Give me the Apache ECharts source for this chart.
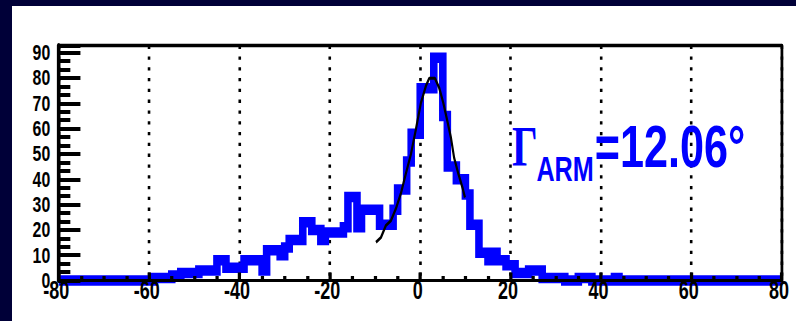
<!DOCTYPE html>
<html>
<head>
<meta charset="utf-8">
<script src="https://cdn.jsdelivr.net/npm/echarts@6/dist/echarts.min.js"></script>
<style>
  html, body { margin: 0; padding: 0; width: 796px; height: 321px; overflow: hidden; background: #000038; }
  #panel { position: absolute; left: 12px; top: 6px; width: 784px; height: 315px; background: #ffffff; }
  /* the plot is laid out wide and squeezed horizontally, like the original pad */
  #chart { position: absolute; left: 0; top: 0; width: 1106px; height: 321px;
           transform: scaleX(0.72); transform-origin: 0 0; }
</style>
</head>
<body>
<div id="panel"></div>
<div id="chart"></div>
<script>
// ARM distribution, 1-degree bins from -80 to 80
const binStart = -80;
const binWidth = 1;
const counts = [
  // -80 .. -71
  0, 0, 0, 0, 0, 0, 0, 0, 0, 0,
  // -70 .. -61
  0, 0, 0, 0, 0, 0, 0, 0, 0, 0,
  // -60 .. -51
  0, 1, 1, 1, 1, 2, 2, 3, 3, 3,
  // -50 .. -41
  3, 4, 4, 4, 4, 8, 8, 5, 5, 5,
  // -40 .. -31
  5, 8, 8, 8, 8, 4, 12, 12, 12, 10,
  // -30 .. -21
  13, 16, 16, 16, 23, 23, 20, 20, 16, 19,
  // -20 .. -11
  19, 19, 19, 21, 33, 33, 21, 28, 28, 28,
  // -10 .. -1
  28, 22, 22, 22, 28, 36, 36, 47, 58, 58,
  // 0 .. 9
  76, 76, 76, 88, 88, 65, 45, 45, 40, 40,
  // 10 .. 19
  34, 22, 22, 11, 11, 8, 11, 8, 8, 6,
  // 20 .. 29
  6, 3, 3, 3, 4, 4, 4, 1, 1, 1,
  // 30 .. 39
  1, 1, 0, 0, 0, 1, 1, 1, 0, 0,
  // 40 .. 49
  0, 0, 0, 1, 0, 0, 0, 0, 0, 0,
  // 50 .. 59
  0, 0, 0, 0, 0, 0, 0, 0, 0, 0,
  // 60 .. 69
  0, 0, 0, 0, 0, 0, 0, 0, 0, 0,
  // 70 .. 79
  0, 0, 0, 0, 0, 0, 0, 0, 0, 0
];

// fitted peak shape, sampled along the curve
const fitX = [-9.8, -8.7, -7.6, -6.5, -5.4, -4.3, -3.2, -2.05, -0.95, 0.15, 1.25,
              2.0, 3.25, 4.2, 5.1, 6.0, 6.8, 7.5, 8.45, 9.35, 9.9];
const fitY = [15.1, 17.0, 21.7, 23.6, 28.3, 34.3, 42.1, 50.0, 59.8, 70.2, 76.8,
              79.9, 79.9, 76.1, 70.2, 63.0, 56.4, 48.5, 42.1, 36.7, 32.8];

// axes
const xRange = [-80, 80];
const xStep = 20;
const yRange = [0, 92.8];
const yStep = 10;

const resolution = '\u0393';   // Gamma
const resolutionSub = 'ARM';
const resolutionValue = '=12.06\u00B0';

// step outline: value of bin i holds from its low edge to the next edge
const histPoints = counts.map((c, i) => [binStart + i * binWidth, c]);
histPoints.push([binStart + counts.length * binWidth, counts[counts.length - 1]]);
const fitPoints = fitX.map((x, i) => [x, fitY[i]]);

const fontFamily = '"Liberation Sans", Arial, sans-serif';

const chart = echarts.init(document.getElementById('chart'), null, { renderer: 'svg' });
chart.setOption({
  animation: false,
  backgroundColor: 'transparent',
  grid: { left: 81.7, right: 17.6, top: 45.6, bottom: 40.5, containLabel: false },
  xAxis: [
    {
      type: 'value', position: 'bottom', min: xRange[0], max: xRange[1], interval: xStep, z: 5,
      axisLine: { show: true, onZero: false, lineStyle: { color: '#000', width: 3 } },
      axisTick: { show: true, inside: true, length: 8, lineStyle: { color: '#000', width: 4.5 } },
      minorTick: { show: true, splitNumber: 4, length: 4.5, lineStyle: { color: '#000', width: 4.5 } },
      axisLabel: { margin: -1, padding: [0, 7, 0, 0], fontFamily, fontWeight: 'bold', fontSize: 25,
        lineHeight: 22, color: '#000', showMinLabel: true, showMaxLabel: true, hideOverlap: false },
      splitLine: { show: false }
    },
    {
      type: 'value', position: 'top', min: xRange[0], max: xRange[1], interval: xStep, z: 1,
      axisLine: { show: true, onZero: false, lineStyle: { color: '#000', width: 3.3 } },
      axisTick: { show: false }, axisLabel: { show: false },
      splitLine: { show: true, lineStyle: { color: '#000', width: 3.6, type: [3.3, 7.5] } }
    }
  ],
  yAxis: [
    {
      type: 'value', position: 'left', min: yRange[0], max: yRange[1], interval: yStep, z: 5,
      axisLine: { show: true, onZero: false, lineStyle: { color: '#000', width: 5 } },
      axisTick: { show: true, inside: true, length: 30, lineStyle: { color: '#000', width: 4 } },
      minorTick: { show: true, splitNumber: 3, length: 16, lineStyle: { color: '#000', width: 4 } },
      axisLabel: {
        margin: 12, showMinLabel: true, showMaxLabel: false, hideOverlap: false,
        fontFamily, fontWeight: 'bold', fontSize: 22, lineHeight: 20, color: '#000',
        formatter: v => (v % yStep === 0 ? String(v) : '')
      },
      splitLine: { show: false }
    },
    {
      type: 'value', position: 'right', min: yRange[0], max: yRange[1], interval: yStep, z: 1,
      axisLine: { show: true, onZero: false, lineStyle: { color: '#000', width: 3.8 } },
      axisTick: { show: false }, axisLabel: { show: false }, splitLine: { show: false }
    }
  ],
  series: [
    {
      name: 'ARM', type: 'line', xAxisIndex: 0, yAxisIndex: 0, step: 'end',
      data: histPoints, symbol: 'none', showSymbol: false, clip: false, z: 2, silent: true,
      lineStyle: { color: '#0000ff', width: 10.5, join: 'miter', cap: 'butt' }
    },
    {
      name: 'fit', type: 'line', xAxisIndex: 0, yAxisIndex: 0,
      data: fitPoints, symbol: 'none', showSymbol: false, z: 3, silent: true,
      lineStyle: { color: '#000', width: 3 }
    }
  ],
  graphic: [
    { type: 'text', z: 10, style: { x: 711, y: 148, text: resolution, fill: '#0000ff',
        font: 'bold 56px "Liberation Serif", serif', verticalAlign: 'middle', align: 'left' } },
    { type: 'text', z: 10, style: { x: 745, y: 168.5, text: resolutionSub, fill: '#0000ff',
        font: 'bold 35px "Liberation Sans", Arial, sans-serif', verticalAlign: 'middle', align: 'left' } },
    { type: 'text', z: 10, style: { x: 826, y: 146.5, text: resolutionValue, fill: '#0000ff',
        font: 'bold 60px "Liberation Sans", Arial, sans-serif', verticalAlign: 'middle', align: 'left' } }
  ]
});
</script>
</body>
</html>
